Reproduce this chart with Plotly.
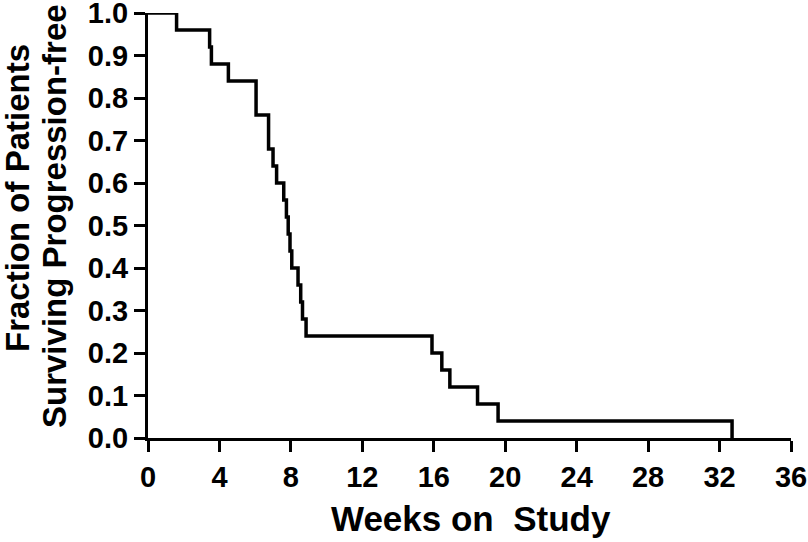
import plotly.graph_objects as go

# Kaplan-Meier event times (weeks) and fraction surviving progression-free
weeks = [0, 1.6, 3.45, 3.55, 4.5, 6.05, 6.05, 6.75, 6.75, 7.0, 7.2, 7.6, 7.75, 7.85,
         7.95, 8.05, 8.4, 8.55, 8.65, 8.85, 15.9, 16.45, 16.9, 18.45, 19.6, 32.7]
fraction = [1.0, 0.96, 0.92, 0.88, 0.84, 0.80, 0.76, 0.72, 0.68, 0.64, 0.60, 0.56, 0.52,
            0.48, 0.44, 0.40, 0.36, 0.32, 0.28, 0.24, 0.20, 0.16, 0.12, 0.08, 0.04, 0.0]

x_ticks = [0, 4, 8, 12, 16, 20, 24, 28, 32, 36]
y_ticks = [0.0, 0.1, 0.2, 0.3, 0.4, 0.5, 0.6, 0.7, 0.8, 0.9, 1.0]
y_tick_labels = [f"{v:.1f}" for v in y_ticks]

x_title = "Weeks on\u00a0\u00a0Study"
y_title_1 = "Fraction of Patients"
y_title_2 = "Surviving Progression-free"

FONT = "Liberation Sans, Arial, sans-serif"

fig = go.Figure()
fig.add_trace(go.Scatter(
    x=weeks, y=fraction, mode="lines", line_shape="hv",
    line=dict(color="black", width=3.5), cliponaxis=False, showlegend=False,
    hoverinfo="x+y"))

axis_common = dict(
    showgrid=False, zeroline=False, showline=True, linecolor="black", linewidth=3,
    ticks="outside", ticklen=11, tickwidth=3, tickcolor="black",
    ticklabeloverflow="allow",
    tickfont=dict(family=FONT, size=29, color="black", weight="bold"),
)

fig.update_xaxes(range=[0, 36], tickvals=x_ticks, ticktext=[str(t) for t in x_ticks],
                 **axis_common)
fig.update_yaxes(range=[0, 1.0], tickvals=y_ticks, ticktext=y_tick_labels,
                 **axis_common)

W, H = 808, 542
ml, mr, mt, mb = 148, 17, 13, 104
pw, ph = W - ml - mr, H - mt - mb

def px_x(px):
    return (px - ml) / pw

def px_y(py):
    return (H - mb - py) / ph

title_font = dict(family=FONT, size=33, color="black", weight="bold")
fig.add_annotation(text=x_title, xref="paper", yref="paper", x=px_x(471), y=px_y(518),
                   xanchor="center", yanchor="middle", showarrow=False,
                   font=dict(family=FONT, size=35, color="black", weight="bold"))
fig.add_annotation(text=y_title_1, xref="paper", yref="paper", x=px_x(17), y=px_y(198),
                   xanchor="center", yanchor="middle", textangle=-90, showarrow=False,
                   font=title_font)
fig.add_annotation(text=y_title_2, xref="paper", yref="paper", x=px_x(54), y=px_y(216),
                   xanchor="center", yanchor="middle", textangle=-90, showarrow=False,
                   font=title_font)

fig.update_layout(
    width=W, height=H, margin=dict(l=ml, r=mr, t=mt, b=mb, autoexpand=False),
    plot_bgcolor="white", paper_bgcolor="white",
)

fig.write_html("out.html", config={"displayModeBar": False},
               post_script="document.body.style.margin='0';document.body.style.overflow='hidden';")
